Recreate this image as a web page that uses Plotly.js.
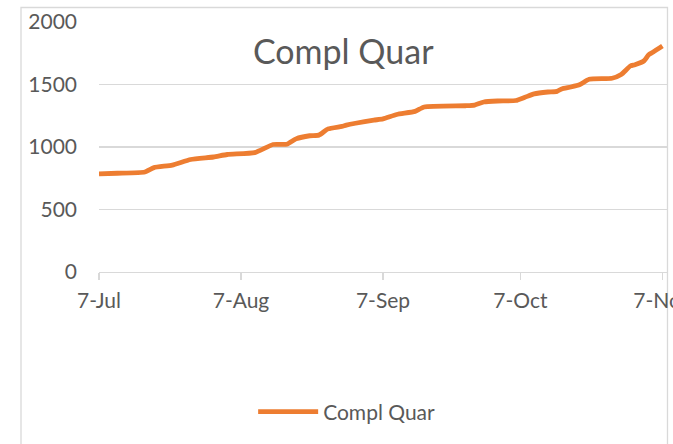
<!DOCTYPE html>
<html>
<head>
<meta charset="utf-8">
<script src="https://cdn.plot.ly/plotly-3.0.1.min.js"></script>
<style>
  html, body { margin: 0; padding: 0; background: #ffffff; }
  #chart { width: 673px; height: 444px; }
</style>
</head>
<body>
<div id="chart"></div>
<script>
const seriesName = "Compl Quar";
const dates = [
  "2020-07-07", "2020-07-11", "2020-07-17", "2020-07-19", "2020-07-23", "2020-07-27",
  "2020-08-01", "2020-08-04", "2020-08-10", "2020-08-14", "2020-08-17", "2020-08-19",
  "2020-08-22", "2020-08-24", "2020-08-26", "2020-08-29", "2020-08-30", "2020-09-01",
  "2020-09-05", "2020-09-07", "2020-09-10", "2020-09-14", "2020-09-16", "2020-09-25",
  "2020-09-27", "2020-09-29", "2020-10-02", "2020-10-06", "2020-10-08", "2020-10-10",
  "2020-10-13", "2020-10-15", "2020-10-16", "2020-10-18", "2020-10-20", "2020-10-22",
  "2020-10-27", "2020-10-29", "2020-10-31", "2020-11-01", "2020-11-03", "2020-11-04",
  "2020-11-05", "2020-11-07"
];
const values = [
  785, 790, 800, 835, 855, 900,
  920, 940, 955, 1020, 1022, 1065,
  1090, 1095, 1145, 1165, 1175, 1190,
  1215, 1225, 1260, 1285, 1320, 1330,
  1335, 1360, 1368, 1372, 1398, 1425,
  1440, 1445, 1465, 1480, 1500, 1542,
  1550, 1580, 1648, 1658, 1690, 1738,
  1760, 1808
];
const yTicks = [0, 500, 1000, 1500, 2000];
const xRange = ["2020-07-07", "2020-11-08"];

const fontFamily = "Lato, 'Open Sans', sans-serif";
const textColor = "#595959";
const gridColor = "#d9d9d9";

const trace = {
  type: "scatter",
  mode: "lines",
  name: seriesName,
  x: dates,
  y: values,
  line: { color: "#ED7D31", width: 4.8, shape: "spline", smoothing: 0.5 },
  hoverinfo: "skip"
};

const layout = {
  width: 673,
  height: 444,
  margin: { l: 99, r: 6, t: 22, b: 172 },
  paper_bgcolor: "#ffffff",
  plot_bgcolor: "#ffffff",
  font: { family: fontFamily, color: textColor, size: 21 },
  title: {
    text: seriesName,
    font: { family: fontFamily, size: 34, color: textColor },
    xref: "container", yref: "container",
    x: 0.51, y: 0.883, xanchor: "center", yanchor: "middle"
  },
  xaxis: {
    type: "date",
    range: xRange,
    tick0: "2020-07-07",
    dtick: "M1",
    tickformat: "%-d-%b",
    showgrid: false,
    showline: true,
    linecolor: gridColor,
    linewidth: 1.3,
    ticks: "outside",
    ticklen: 7,
    tickcolor: gridColor,
    tickwidth: 1.3,
    ticklabeloverflow: "allow",
    ticklabelstandoff: 2,
    tickfont: { family: fontFamily, size: 21, color: textColor },
    zeroline: false,
    fixedrange: true
  },
  yaxis: {
    range: [0, 2000],
    tickvals: yTicks,
    ticktext: yTicks.map(String),
    showgrid: true,
    gridcolor: gridColor,
    gridwidth: 1.3,
    zeroline: false,
    showline: false,
    ticks: "",
    ticklabelstandoff: 21,
    tickfont: { family: fontFamily, size: 21, color: textColor },
    fixedrange: true
  },
  showlegend: true,
  legend: {
    orientation: "h",
    x: 0.436, y: -0.56,
    xanchor: "center", yanchor: "middle",
    itemwidth: 60,
    font: { family: fontFamily, size: 21, color: textColor },
    bgcolor: "rgba(0,0,0,0)"
  },
  shapes: [
    {
      type: "rect", xref: "paper", yref: "paper",
      x0: (21 - 99) / 568, x1: (667.5 - 99) / 568,
      y0: (272 - 460) / 250, y1: (272 - 7.5) / 250,
      line: { color: gridColor, width: 1.3 },
      fillcolor: "rgba(0,0,0,0)",
      layer: "below"
    }
  ]
};

Plotly.newPlot("chart", [trace], layout, { displayModeBar: false, staticPlot: true });
</script>
</body>
</html>
